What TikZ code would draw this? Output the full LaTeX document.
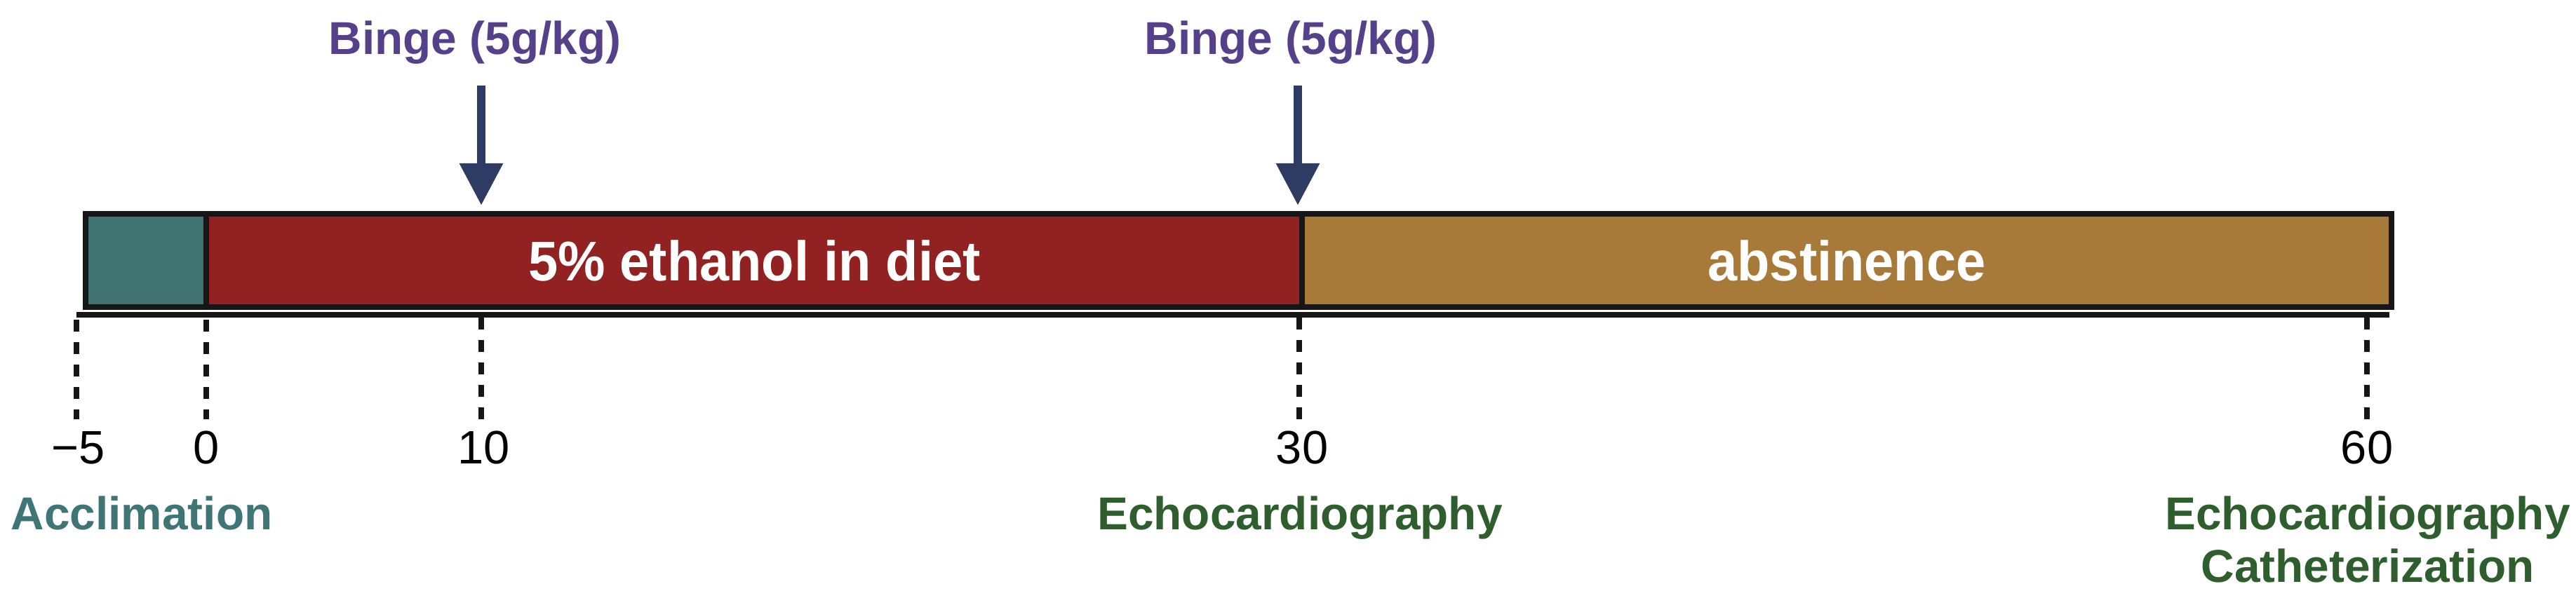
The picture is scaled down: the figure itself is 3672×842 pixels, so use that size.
\documentclass[tikz,border=0pt]{standalone}
\usepackage{fontspec}
\setmainfont{Liberation Sans}
\newfontfamily\bartextfont[FakeStretch=0.95]{Liberation Sans}
\usetikzlibrary{arrows.meta}
\definecolor{tealfill}{RGB}{65,114,114}
\definecolor{redfill}{RGB}{146,34,33}
\definecolor{brownfill}{RGB}{168,122,58}
\definecolor{barline}{RGB}{22,22,22}
\definecolor{navyarrow}{RGB}{46,59,99}
\definecolor{bingepurple}{RGB}{85,64,138}
\definecolor{tealtext}{RGB}{63,117,117}
\definecolor{greentext}{RGB}{46,94,46}
\tikzset{
  seg/.style={draw=barline, line width=0.08cm, inner sep=0pt, anchor=north west,
    minimum height=1.33cm, text=white,
    font=\bartextfont\fontsize{22.7pt}{25pt}\selectfont\bfseries},
  axisline/.style={draw=barline, line width=0.08cm},
  bingelabel/.style={text=bingepurple, anchor=base, inner sep=0pt,
    font=\fontsize{18.7pt}{21.3pt}\selectfont\bfseries},
  bingearrow/.style={draw=navyarrow, line width=0.125cm,
    -{Triangle[length=0.6cm,width=0.59cm]}},
  tickline/.style={draw=barline, line width=0.08cm, dash pattern=on 0.17cm off 0.15cm},
  numlabel/.style={anchor=base, inner sep=0pt, font=\fontsize{19pt}{22pt}\selectfont},
  eventlabel/.style={inner sep=0pt, align=center,
    font=\fontsize{18.7pt}{21.3pt}\selectfont\bfseries}
}
\begin{document}
\begin{tikzpicture}[x=0.01cm,y=-0.01cm]
\useasboundingbox (0,0) rectangle (3672,842);
% bar segments
\node[seg, fill=tealfill, minimum width=1.72cm] (accl) at (118,301) {};
\node[seg, fill=redfill, minimum width=15.62cm] (etoh) at (290,301) {5\% ethanol in diet};
\node[seg, fill=brownfill, minimum width=15.52cm] (abst) at (1852,301) {abstinence};
% axis line
\coordinate (axL) at (109,449);
\coordinate (axR) at (3406,449);
\draw[axisline] (axL) -- (axR);
% binge labels and arrows
\node[bingelabel] (binge1) at (677,77) {Binge (5g/kg)};
\node[bingelabel] (binge2) at (1840,77) {Binge (5g/kg)};
\coordinate (b1s) at (686,122);
\coordinate (b1t) at (686,293);
\coordinate (b2s) at (1850,122);
\coordinate (b2t) at (1850,293);
\draw[bingearrow] (b1s) -- (b1t);
\draw[bingearrow] (b2s) -- (b2t);
% ticks
\coordinate (tm5a) at (109,456); \coordinate (tm5b) at (109,598);
\coordinate (t0a) at (294,456);  \coordinate (t0b) at (294,598);
\coordinate (t10a) at (686,453); \coordinate (t10b) at (686,598);
\coordinate (t30a) at (1852,453); \coordinate (t30b) at (1852,598);
\coordinate (t60a) at (3374,453); \coordinate (t60b) at (3374,598);
\draw[tickline] (tm5a) -- (tm5b);
\draw[tickline] (t0a) -- (t0b);
\draw[tickline] (t10a) -- (t10b);
\draw[tickline] (t30a) -- (t30b);
\draw[tickline] (t60a) -- (t60b);
% numbers
\node[numlabel] (nm5) at (112,661) {−5};
\node[numlabel] (n0) at (294,661) {0};
\node[numlabel] (n10) at (690,661) {10};
\node[numlabel] (n30) at (1856,661) {30};
\node[numlabel] (n60) at (3374,661) {60};
% event labels
\node[eventlabel, anchor=base, text=tealtext] (lacc) at (202,755) {Acclimation};
\node[eventlabel, anchor=base, text=greentext] (lecho1) at (1853,755) {Echocardiography};
\node[eventlabel, anchor=north, text=greentext] (lecho2) at (3375,707) {Echocardiography\\Catheterization};
\end{tikzpicture}
\end{document}
